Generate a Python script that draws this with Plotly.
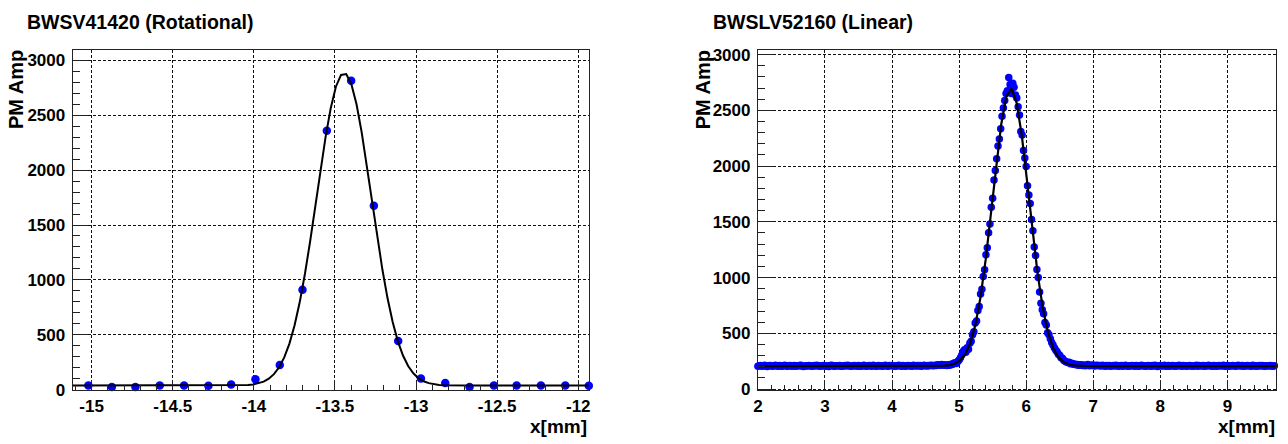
import numpy as np
import plotly.graph_objects as go

# ---------------- rotational wire scanner (BWSV41420) ----------------
ROT_X = [-15.02, -14.875, -14.73, -14.58, -14.43, -14.28, -14.14, -13.99, -13.84, -13.70, -13.55,
         -13.40, -13.26, -13.11, -12.97, -12.82, -12.67, -12.52, -12.38, -12.23, -12.08, -11.935]
ROT_Y = [39, 26, 26, 39, 39, 36, 48, 95, 226, 911, 2357,
         2812, 1675, 444, 103, 62, 26, 39, 39, 39, 39, 36]
# gaussian + constant fit: offset, amplitude, mean, sigma
ROT_FIT = (38.0, 2845.0, -13.444, 0.168)
ROT_XRANGE = [-15.117, -11.935]
ROT_YRANGE = [-5, 3092]
ROT_XTICKS = [-15, -14.5, -14, -13.5, -13, -12.5, -12]
ROT_XTICKTEXT = ["-15", "-14.5", "-14", "-13.5", "-13", "-12.5", "-12"]

# ---------------- linear wire scanner (BWSLV52160) ----------------
LIN_START, LIN_STEP = 2.0, 0.02
LIN_Y = [
    # 2.00 .. 4.78
    204, 209, 211, 206, 208, 213, 207, 203, 210, 212, 208, 205, 209, 214, 207, 204, 211, 208, 206, 210,
    213, 207, 205, 209, 211, 206, 208, 212, 204, 209, 207, 211, 214, 206, 203, 208, 210, 207, 212, 209,
    205, 208, 211, 207, 213, 209, 204, 207, 210, 212, 206, 209, 208, 203, 211, 214, 207, 205, 209, 210,
    208, 212, 206, 204, 209, 211, 207, 213, 210, 205, 208, 207, 211, 209, 204, 212, 208, 206, 210, 215,
    207, 204, 209, 211, 208, 206, 213, 210, 205, 208, 212, 207, 209, 204, 210, 213, 208, 206, 211, 209,
    212, 207, 205, 210, 208, 214, 209, 206, 211, 207, 204, 209, 212, 208, 210, 206, 213, 209, 207, 211,
    208, 211, 206, 210, 213, 209, 207, 212, 210, 214, 211, 209, 215, 212, 218, 213, 216, 221, 214, 219,
    # 4.80 .. 6.80 (beam profile)
    216, 211, 219, 214, 224, 220, 231, 236, 230, 248,
    262, 281, 305, 338, 352, 330, 371, 358, 412, 430,
    488, 514, 592, 611, 706, 742, 852, 896, 1010, 1071,
    1205, 1268, 1402, 1480, 1631, 1712, 1875, 1960, 2066, 2180,
    2242, 2335, 2448, 2520, 2589, 2652, 2676, 2795, 2731, 2650,
    2742, 2708, 2638, 2610, 2532, 2458, 2310, 2278, 2139, 2072,
    1996, 1823, 1740, 1664, 1522, 1420, 1274, 1198, 1073, 1001,
    871, 770, 712, 676, 598, 574, 506, 488, 452, 418,
    395, 372, 350, 336, 312, 303, 282, 276, 259, 251,
    244, 238, 241, 228, 232, 222, 226, 218, 221, 214,
    217,
    # 6.82 .. 9.72
    219, 212, 216, 210, 214, 221, 209, 213, 211, 217, 208, 212, 215, 209, 211, 207, 213, 210, 206, 211,
    208, 212, 205, 209, 211, 207, 214, 208, 204, 210, 212, 206, 209, 213, 207, 205, 210, 208, 212, 209,
    206, 211, 208, 204, 209, 213, 207, 210, 205, 208, 212, 209, 206, 211, 207, 214, 208, 203, 209, 211,
    207, 210, 213, 206, 208, 211, 205, 209, 212, 207, 204, 210, 208, 213, 209, 206, 211, 207, 210, 205,
    209, 212, 207, 204, 210, 208, 213, 206, 211, 209, 207, 212, 205, 208, 210, 214, 207, 209, 206, 211,
    208, 205, 210, 212, 207, 209, 213, 206, 208, 211, 204, 209, 207, 212, 210, 206, 208, 213, 209, 207,
    211, 205, 208, 210, 212, 207, 209, 206, 213, 208, 210, 204, 209, 211, 207, 212, 208, 206, 210, 209,
    207, 212, 208, 205, 210, 209,
]
# wire positions of the stepper scan
LIN_X = np.round(LIN_START + LIN_STEP * np.arange(len(LIN_Y)), 3)
LIN_FIT = (207.0, 2490.0, 5.77, 0.27)
LIN_XRANGE = [2.0, 9.718]
LIN_YRANGE = [-11, 3040]
LIN_XTICKS = [2, 3, 4, 5, 6, 7, 8, 9]

Y_TICKS = [0, 500, 1000, 1500, 2000, 2500, 3000]


def gauss_curve(params, xr, npx=101):
    """Sample the fitted gaussian + offset like a TF1 with npx points."""
    off, amp, mean, sig = params
    xs = np.linspace(xr[0], xr[1], npx)
    return xs, off + amp * np.exp(-0.5 * ((xs - mean) / sig) ** 2)


FONT = "Liberation Sans, Arial, Helvetica, sans-serif"
BLUE = "#0000ff"

fig = go.Figure()

fig.add_trace(go.Scatter(x=ROT_X, y=ROT_Y, mode="markers", xaxis="x", yaxis="y",
                         marker=dict(color=BLUE, size=8.5, line=dict(width=0)),
                         cliponaxis=False, showlegend=False))
fx, fy = gauss_curve(ROT_FIT, ROT_XRANGE)
fig.add_trace(go.Scatter(x=fx, y=fy, mode="lines", xaxis="x", yaxis="y",
                         line=dict(color="black", width=2), showlegend=False))

fig.add_trace(go.Scatter(x=LIN_X, y=LIN_Y, mode="markers", xaxis="x2", yaxis="y2",
                         marker=dict(color=BLUE, size=7.5, line=dict(width=0)),
                         cliponaxis=False, showlegend=False))
fx, fy = gauss_curve(LIN_FIT, LIN_XRANGE)
fig.add_trace(go.Scatter(x=fx, y=fy, mode="lines", xaxis="x2", yaxis="y2",
                         line=dict(color="black", width=2.2), showlegend=False))

tickfont = dict(family=FONT, size=17, color="black", weight="bold")
common = dict(showline=True, mirror=True, linecolor="#222", linewidth=1,
              showgrid=True, gridcolor="#111", gridwidth=1, griddash="3px,2px",
              zeroline=False, ticks="inside", tickcolor="#222", tickwidth=1,
              tickfont=tickfont)

W, H = 1288, 444
xdom_l = [68 / W, 587 / W]
xdom_r = [757 / W, 1277.5 / W]
ydom = [(H - 398) / H, (H - 47.5) / H]

fig.update_layout(
    width=W, height=H, margin=dict(l=0, r=0, t=0, b=0),
    paper_bgcolor="white", plot_bgcolor="white",
    xaxis=dict(domain=xdom_l, anchor="y", range=ROT_XRANGE, tickvals=ROT_XTICKS,
               ticktext=ROT_XTICKTEXT, ticklen=10, ticklabelstandoff=0,
               minor=dict(ticks="inside", ticklen=5, dtick=0.1, tick0=-15, tickcolor="#222", showgrid=False),
               **common),
    yaxis=dict(domain=ydom, anchor="x", range=ROT_YRANGE, tickvals=Y_TICKS, ticklen=15,
               ticklabelstandoff=3,
               minor=dict(ticks="inside", ticklen=7.5, dtick=100, tick0=0, tickcolor="#222", showgrid=False),
               **common),
    xaxis2=dict(domain=xdom_r, anchor="y2", range=LIN_XRANGE, tickvals=LIN_XTICKS, ticklen=10,
                ticklabelstandoff=0,
                minor=dict(ticks="inside", ticklen=5, dtick=0.2, tick0=2, tickcolor="#222", showgrid=False),
                **common),
    yaxis2=dict(domain=ydom, anchor="x2", range=LIN_YRANGE, tickvals=Y_TICKS, ticklen=15,
                ticklabelstandoff=3,
                minor=dict(ticks="inside", ticklen=7.5, dtick=100, tick0=0, tickcolor="#222", showgrid=False),
                **common),
)

title_font = dict(family=FONT, size=19.5, color="black", weight="bold")
axis_font = dict(family=FONT, size=20, color="black", weight="bold")
xtitle_font = dict(family=FONT, size=19, color="black", weight="bold")

annotations = [
    dict(text="BWSV41420 (Rotational)", x=21.5 / W, y=1 - 19 / H, xanchor="left", yanchor="middle",
         font=title_font),
    dict(text="BWSLV52160 (Linear)", x=710.5 / W, y=1 - 19 / H, xanchor="left", yanchor="middle",
         font=title_font),
    dict(text="PM Amp", textangle=-90, x=10.5 / W, y=1 - 46.5 / H, xanchor="center", yanchor="top",
         font=axis_font),
    dict(text="PM Amp", textangle=-90, x=701.5 / W, y=1 - 46.5 / H, xanchor="center", yanchor="top",
         font=axis_font),
    dict(text="x[mm]", x=586 / W, y=1 - 435 / H, xanchor="right", yanchor="middle", font=xtitle_font),
    dict(text="x[mm]", x=1277.5 / W, y=1 - 435 / H, xanchor="right", yanchor="middle", font=xtitle_font),
]
for a in annotations:
    a.update(xref="paper", yref="paper", showarrow=False, borderpad=0)
fig.update_layout(annotations=annotations)

fig.write_html("out.html")
